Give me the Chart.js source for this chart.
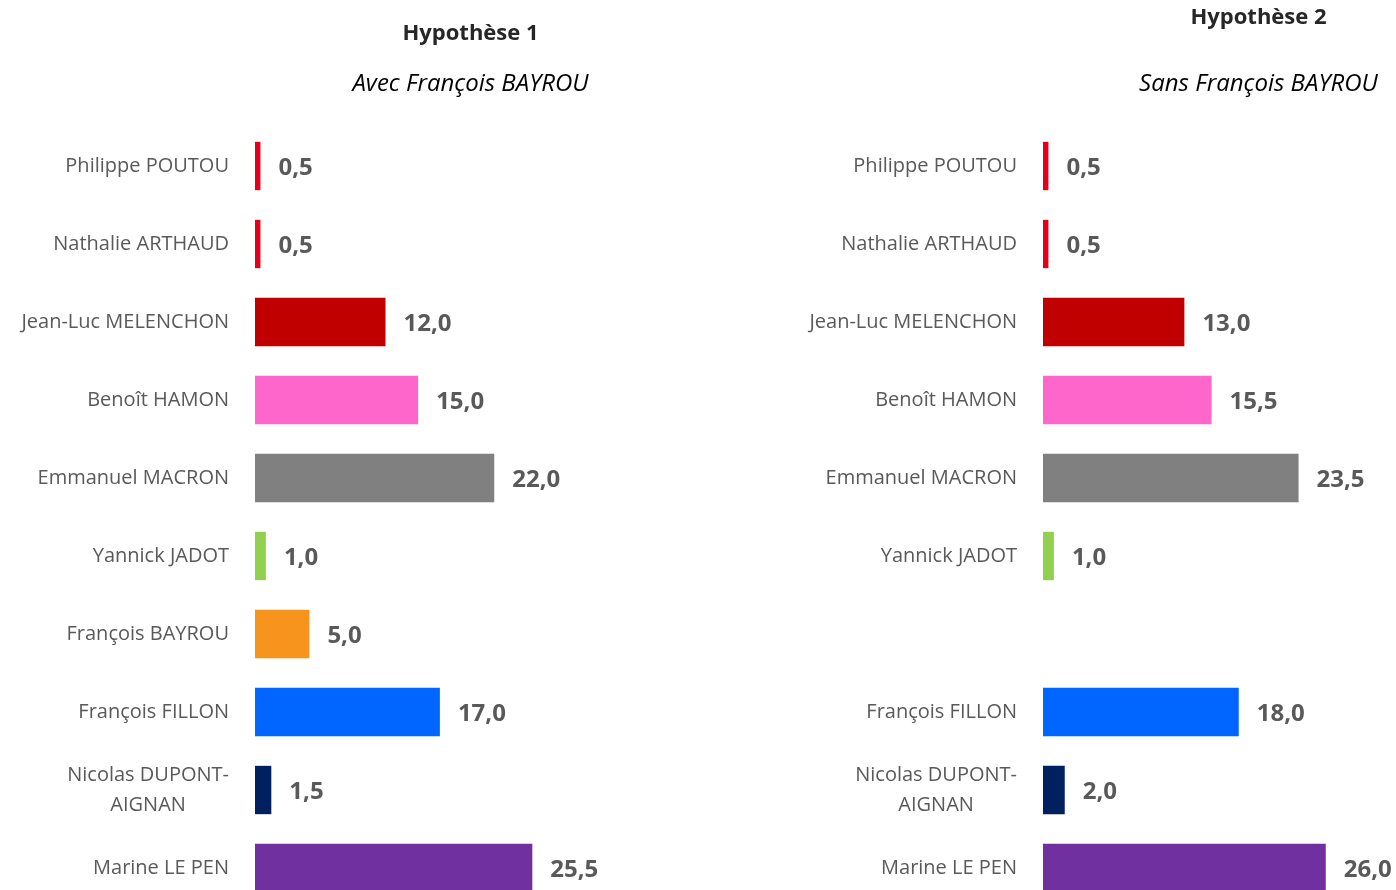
<!DOCTYPE html>
<html>
<head>
<meta charset="utf-8">
<script src="https://cdn.jsdelivr.net/npm/chart.js@4.4.1/dist/chart.umd.min.js"></script>
<style>
  html, body { margin: 0; padding: 0; background: #fff; overflow: hidden; width: 1396px; height: 890px; }
  .wrap { position: absolute; top: 0; width: 700px; height: 910px; }
</style>
</head>
<body>
<div class="wrap" style="left:0"><canvas id="chart1"></canvas></div>
<div class="wrap" style="left:788px"><canvas id="chart2"></canvas></div>
<script>
// candidates (top to bottom)
const candidates1 = [
  "Philippe POUTOU", "Nathalie ARTHAUD", "Jean-Luc MELENCHON", "Benoît HAMON",
  "Emmanuel MACRON", "Yannick JADOT", "François BAYROU", "François FILLON",
  ["Nicolas DUPONT-", "AIGNAN"], "Marine LE PEN"
];
const candidates2 = [
  "Philippe POUTOU", "Nathalie ARTHAUD", "Jean-Luc MELENCHON", "Benoît HAMON",
  "Emmanuel MACRON", "Yannick JADOT", "", "François FILLON",
  ["Nicolas DUPONT-", "AIGNAN"], "Marine LE PEN"
];
// voting intentions (%)
const hypothese1 = [0.5, 0.5, 12.0, 15.0, 22.0, 1.0, 5.0, 17.0, 1.5, 25.5];
const hypothese2 = [0.5, 0.5, 13.0, 15.5, 23.5, 1.0, null, 18.0, 2.0, 26.0];

const barColors = [
  "#E3001B", "#E3001B", "#C00000", "#FF66CC", "#808080",
  "#92D050", "#F7941D", "#0066FF", "#002060", "#7030A0"
];

const fontFamily = "'Open Sans', sans-serif";
const gray = "#595959";

// titles + value labels + centred multi-line category labels
const decorations = {
  id: "decorations",
  afterDraw(chart) {
    const ctx = chart.ctx;
    const opts = chart.options.plugins.decorations;
    const area = chart.chartArea;
    const cx = (area.left + area.right) / 2;
    ctx.save();
    ctx.textAlign = "center";
    ctx.textBaseline = "middle";
    ctx.fillStyle = "#262626";
    ctx.font = "bold 22px " + fontFamily;
    ctx.fillText(opts.title, cx - 2, opts.titleY);
    ctx.fillStyle = "#000";
    ctx.font = "italic 24px " + fontFamily;
    ctx.fillText(opts.subtitle, cx - 2, 84);

    // category labels
    const yScale = chart.scales.y;
    ctx.fillStyle = gray;
    ctx.font = "20px " + fontFamily;
    const right = yScale.right - 26;
    chart.data.labels.forEach((lab, i) => {
      const lines = Array.isArray(lab) ? lab : [lab];
      const w = Math.max(...lines.map(l => ctx.measureText(l).width));
      const y0 = yScale.getPixelForValue(i) - (lines.length - 1) * 15;
      lines.forEach((l, j) => ctx.fillText(l, right - w / 2, y0 + j * 30));
    });

    // value labels
    ctx.textAlign = "left";
    ctx.font = "bold 24px " + fontFamily;
    const meta = chart.getDatasetMeta(0);
    const data = chart.data.datasets[0].data;
    meta.data.forEach((bar, i) => {
      if (data[i] == null) return;
      ctx.fillText(data[i].toFixed(1).replace(".", ","), bar.x + 18, bar.y + 2);
    });
    ctx.restore();
  }
};

function makeChart(id, labels, values, title, subtitle, titleY) {
  return new Chart(document.getElementById(id), {
    type: "bar",
    data: {
      labels: labels,
      datasets: [{
        data: values,
        backgroundColor: barColors,
        categoryPercentage: 1,
        barPercentage: 0.62
      }]
    },
    options: {
      indexAxis: "y",
      responsive: true,
      maintainAspectRatio: false,
      animation: false,
      layout: { padding: { top: 127, bottom: 3, left: 0, right: 10 } },
      scales: {
        x: { display: false, min: 0, max: 40 },
        y: {
          grid: { display: false },
          border: { display: false },
          ticks: { display: false },
          afterFit(scale) { scale.width = 255; }
        }
      },
      plugins: {
        legend: { display: false },
        tooltip: { enabled: false },
        decorations: { title: title, subtitle: subtitle, titleY: titleY }
      }
    },
    plugins: [decorations]
  });
}

makeChart("chart1", candidates1, hypothese1, "Hypothèse 1", "Avec François BAYROU", 34);
makeChart("chart2", candidates2, hypothese2, "Hypothèse 2", "Sans François BAYROU", 18);
</script>
</body>
</html>
